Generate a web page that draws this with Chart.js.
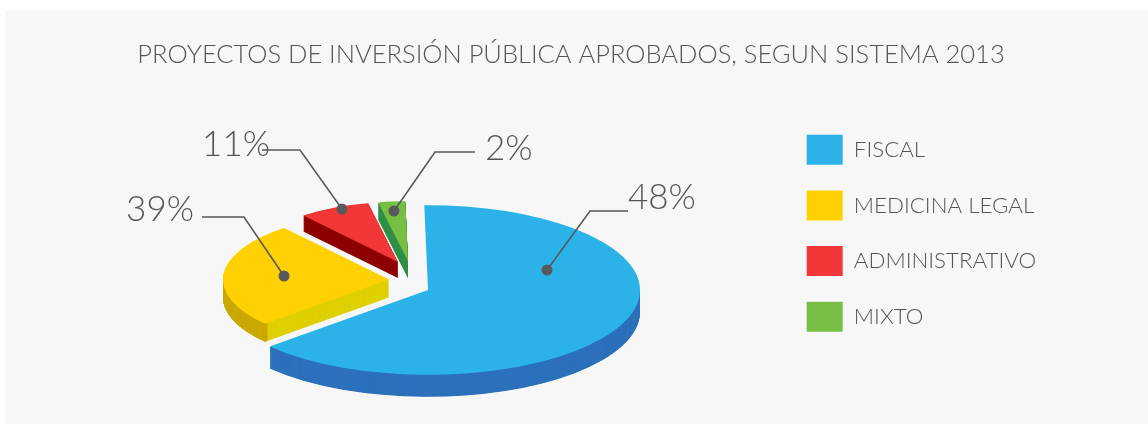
<!DOCTYPE html>
<html>
<head>
<meta charset="utf-8">
<title>Proyectos de inversión pública</title>
<script src="https://cdn.jsdelivr.net/npm/chart.js@4"></script>
<style>
    html, body { margin: 0; background: #ffffff; }
    #panel { position: absolute; left: 6px; top: 10px; width: 1142px; height: 414px; background: #f7f7f7; }
    #wrap { position: absolute; left: 0; top: 0; width: 1148px; height: 424px; }
</style>
</head>
<body>
<div id="panel"></div>
<div id="wrap"><canvas id="pieChart"></canvas></div>
<script>
const categories = ['FISCAL', 'MEDICINA LEGAL', 'ADMINISTRATIVO', 'MIXTO'];
// printed percentages; the original drawing's slices do not follow them
const percentLabels = ['48%', '39%', '11%', '2%'];
// share of the circle each slice covers in the picture
const sliceShares = [63.7, 25.7, 7.7, 2.9];

const topColors = ['#2bb3e9', '#ffd100', '#f13737', '#76bf43'];
const faceColors = [null, '#dfd000', '#8e0000', '#2e8f47'];
const wallColors = ['#2d71bb', '#c9a905', '#8e0000', '#2e8f47'];

// fake 3D: pie is squashed and moved, each slice has its own radius, shift and thickness
const squash = 0.4;
const pieCentre = { x: 428, y: 290 };
const sliceRadius = [212, 166, 150, 150];
const sliceShift = [[0, 0], [-39, -26], [-30, -70], [-20, -72]];
const sliceDepth = [22, 18, 16, 17];

const legendBox = { left: 781, top: 109 };

// leader lines: dot, elbow, end, then text anchor
const leaders = [
    { path: [[547, 270], [590, 211], [628, 211]], text: [628, 198], align: 'left' },
    { path: [[284, 276], [244, 217], [202, 217]], text: [194, 210], align: 'right' },
    { path: [[342, 209], [300, 150], [262, 150]], text: [270, 145], align: 'right' },
    { path: [[394, 211], [435, 152], [475, 152]], text: [485, 149], align: 'left' }
];

const fontName = 'Lato, sans-serif';
const inkColor = '#555555';

function applyView(chart, ctx) {
    const base = chart.getDatasetMeta(0).controller;
    const cx = (chart.chartArea.left + chart.chartArea.right) / 2 + base.offsetX;
    const cy = (chart.chartArea.top + chart.chartArea.bottom) / 2 + base.offsetY;
    ctx.translate(pieCentre.x, pieCentre.y);
    ctx.scale(1, squash);
    ctx.translate(-cx, -cy);
}

function drawStack(ctx, arc, color, depth) {
    const options = arc.options;
    arc.options = Object.create(options, { backgroundColor: { value: color } });
    for (let d = depth; d > 0; d -= 0.5) {
        ctx.save();
        ctx.translate(0, d / squash);
        arc.draw(ctx);
        ctx.restore();
    }
    arc.options = options;
}

const piePerspective = {
    id: 'piePerspective',
    afterDatasetsUpdate(chart) {
        chart.getDatasetMeta(0).data.forEach((arc, i) => {
            arc.outerRadius = sliceRadius[i];
            arc.x += sliceShift[i][0];
            arc.y += sliceShift[i][1];
        });
    },
    afterLayout(chart) {
        const legend = chart.legend;
        const { width, height } = legend;
        legend.left = legendBox.left;
        legend.right = legendBox.left + width;
        legend.top = legendBox.top;
        legend.bottom = legendBox.top + height;
    },
    beforeDatasetsDraw(chart) {
        const ctx = chart.ctx;
        ctx.save();
        applyView(chart, ctx);
        chart.getDatasetMeta(0).data.forEach((arc, i) => {
            if (faceColors[i]) drawStack(ctx, arc, faceColors[i], sliceDepth[i]);
            // the rim only shows on the front half of the pie
            ctx.save();
            ctx.beginPath();
            ctx.rect(-5000, arc.y, 10000, 5000);
            ctx.clip();
            arc.innerRadius = arc.outerRadius - 4;
            drawStack(ctx, arc, wallColors[i], sliceDepth[i]);
            arc.innerRadius = 0;
            ctx.restore();
        });
    },
    afterDatasetsDraw(chart) {
        chart.ctx.restore();
    }
};

const leaderLabels = {
    id: 'leaderLabels',
    afterDraw(chart) {
        const ctx = chart.ctx;
        ctx.save();
        leaders.forEach((leader, i) => {
            ctx.strokeStyle = '#58595b';
            ctx.lineWidth = 1.6;
            ctx.beginPath();
            leader.path.forEach(([x, y], j) => j ? ctx.lineTo(x, y) : ctx.moveTo(x, y));
            ctx.stroke();
            ctx.fillStyle = '#58595b';
            ctx.beginPath();
            ctx.arc(leader.path[0][0], leader.path[0][1], 5.5, 0, Math.PI * 2);
            ctx.fill();
            ctx.fillStyle = inkColor;
            ctx.font = '300 35px ' + fontName;
            ctx.textAlign = leader.align;
            ctx.textBaseline = 'middle';
            ctx.fillText(percentLabels[i], leader.text[0], leader.text[1]);
        });
        ctx.restore();
    }
};

new Chart(document.getElementById('pieChart').getContext('2d'), {
    type: 'pie',
    data: {
        labels: categories,
        datasets: [{
            data: sliceShares,
            backgroundColor: topColors,
            borderWidth: 0,
            radius: 212,
            clip: false
        }]
    },
    options: {
        responsive: true,
        maintainAspectRatio: false,
        animation: false,
        rotation: -1,
        layout: { padding: { right: 6 } },
        plugins: {
            title: {
                display: true,
                text: 'PROYECTOS DE INVERSIÓN PÚBLICA APROBADOS, SEGUN SISTEMA 2013',
                color: inkColor,
                font: { family: fontName, size: 25.5, weight: '300' },
                padding: { top: 39, bottom: 20 }
            },
            legend: {
                position: 'right',
                align: 'start',
                labels: {
                    color: inkColor,
                    font: { family: fontName, size: 22.3, weight: '300' },
                    boxWidth: 36,
                    boxHeight: 30,
                    padding: 25.7
                }
            },
            tooltip: { enabled: false }
        }
    },
    plugins: [piePerspective, leaderLabels]
});
</script>
</body>
</html>
